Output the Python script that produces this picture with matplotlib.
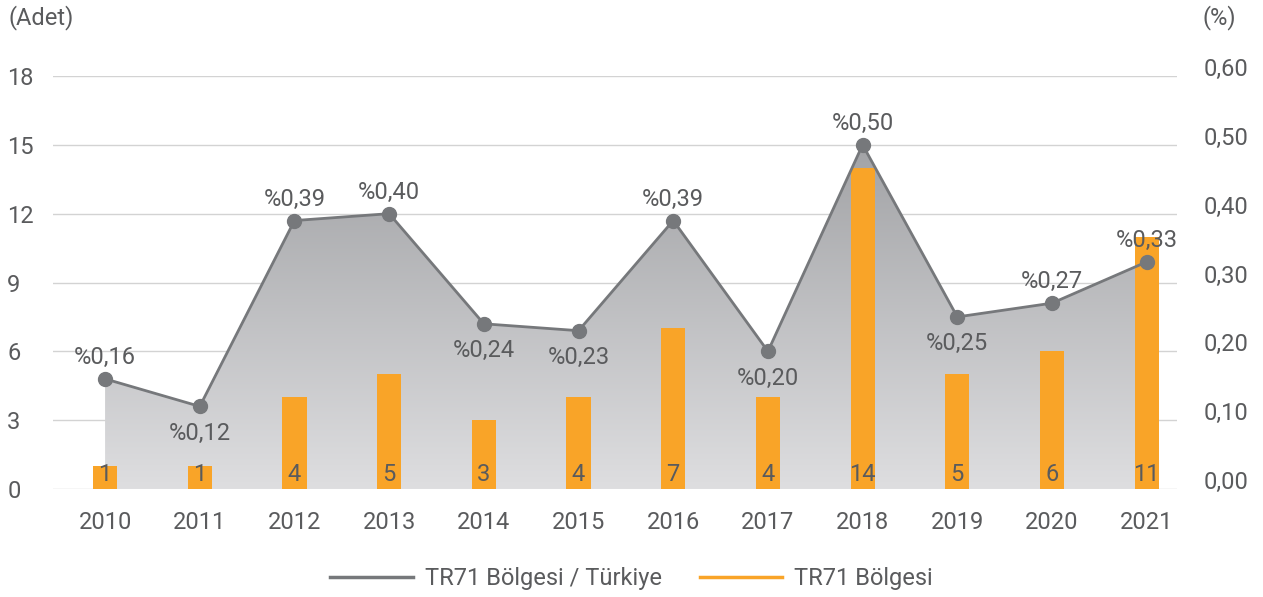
import matplotlib
matplotlib.use("Agg")
import matplotlib.pyplot as plt
import numpy as np
from matplotlib.path import Path
from matplotlib.patches import PathPatch
from matplotlib.transforms import ScaledTranslation
from matplotlib.lines import Line2D

years = ["2010", "2011", "2012", "2013", "2014", "2015", "2016", "2017", "2018", "2019", "2020", "2021"]
counts = [1, 1, 4, 5, 3, 4, 7, 4, 14, 5, 6, 11]
share = [0.16, 0.12, 0.39, 0.40, 0.24, 0.23, 0.39, 0.20, 0.50, 0.25, 0.27, 0.33]
share_labels = ["%0,16", "%0,12", "%0,39", "%0,40", "%0,24", "%0,23", "%0,39", "%0,20", "%0,50", "%0,25", "%0,27", "%0,33"]
label_below = [False, True, False, False, True, True, False, True, False, True, False, False]
left_ticks = [0, 3, 6, 9, 12, 15, 18]
right_ticks = [0.0, 0.1, 0.2, 0.3, 0.4, 0.5, 0.6]
right_tick_labels = ["0,00", "0,10", "0,20", "0,30", "0,40", "0,50", "0,60"]

plt.rcParams['font.family'] = ['Roboto', 'DejaVu Sans']
TXT = "#5a5b5d"
LINE = "#76787b"
ORANGE = "#f9a428"
FS = 17

fig = plt.figure(figsize=(12.63, 5.97), dpi=100)
ax = fig.add_axes([53/1263, 1-489/597, (1177-53)/1263, (489-76)/597])
ax2 = ax.twinx()
x = np.arange(len(years))

ax.set_xlim(-0.55, 11.32)
ax.set_ylim(0, 18)
ax2.set_ylim(0, 0.6)

# gridlines
for t in left_ticks:
    ax.axhline(t, color="#d3d3d3", lw=1, zorder=0)

# gradient area under line (drawn on ax2)
verts = [(x[0], 0)] + list(zip(x, share)) + [(x[-1], 0), (x[0], 0)]
path = Path(verts)
patch = PathPatch(path, facecolor="none", edgecolor="none")
ax2.add_patch(patch)
grad = np.linspace(0, 1, 256).reshape(-1, 1)
c_top = np.array([0xa2, 0xa3, 0xa6]) / 255
c_bot = np.array([0xde, 0xde, 0xe0]) / 255
img = c_bot[None, None, :] * (1 - grad[:, :, None]) + c_top[None, None, :] * grad[:, :, None]
im = ax2.imshow(img, extent=[x[0], x[-1], 0, 0.5], origin="lower", aspect="auto", zorder=1)
im.set_clip_path(patch)

ax2.set_xlim(-0.55, 11.32)

# bars on ax2 scale for z-order above area
bar_vals = [c / 18 * 0.6 for c in counts]
ax2.bar(x, bar_vals, width=0.255, color=ORANGE, zorder=2)
for xi, c in zip(x, counts):
    ax2.text(xi, 0.004, str(c), ha="center", va="bottom", fontsize=FS, color=TXT, zorder=5)

ax2.plot(x, share, color=LINE, lw=2, marker="o", markersize=10, zorder=4)
for xi, v, lab, below in zip(x, share, share_labels, label_below):
    if below:
        ax2.annotate(lab, (xi, v), xytext=(0, -11), textcoords="offset points", ha="center", va="top",
                     fontsize=FS, color=TXT, zorder=6)
    else:
        ax2.annotate(lab, (xi, v), xytext=(0, 7), textcoords="offset points", ha="center", va="bottom",
                     fontsize=FS, color=TXT, zorder=6)

ax.set_zorder(ax2.get_zorder() - 1)
ax2.patch.set_visible(False)

for a in (ax, ax2):
    for s in a.spines.values():
        s.set_visible(False)
    a.tick_params(length=0)

ax.set_xticks(x)
ax.set_xticklabels(years, fontsize=FS, color=TXT)
ax.tick_params(axis="x", pad=16)
ax.set_yticks(left_ticks)
ax.set_yticklabels([str(t) for t in left_ticks], fontsize=FS, color=TXT, ha="left")
ax.tick_params(axis="y", pad=33)
ax2.set_yticks(right_ticks)
ax2.set_yticklabels(right_tick_labels, fontsize=FS, color=TXT)
ax2.tick_params(axis="y", pad=19)
for lbl in ax2.get_yticklabels():
    lbl.set_transform(lbl.get_transform() + ScaledTranslation(0, 9/100, fig.dpi_scale_trans))

fig.text(8/1263, 1-18/597, "(Adet)", fontsize=FS, color=TXT, ha="left", va="center")
fig.text(1203/1263, 1-18/597, "(%)", fontsize=FS, color=TXT, ha="left", va="center")

handles = [Line2D([], [], color=LINE, lw=2.5), Line2D([], [], color=ORANGE, lw=2.5)]
fig.legend(handles, ["TR71 Bölgesi / Türkiye", "TR71 Bölgesi"], loc="center", bbox_to_anchor=(0.5, 1-579/597),
           ncol=2, frameon=False, fontsize=FS, labelcolor=TXT, handlelength=3.5, handletextpad=0.5,
           columnspacing=1.6)

fig.savefig("out.png", dpi=100)
